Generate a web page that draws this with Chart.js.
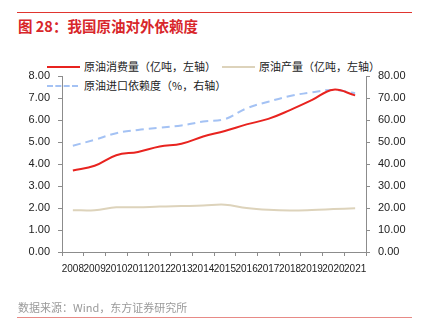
<!DOCTYPE html>
<html>
<head>
<meta charset="utf-8">
<script src="https://cdn.jsdelivr.net/npm/chart.js@4/dist/chart.umd.min.js"></script>
<style>
  html, body { margin: 0; padding: 0; background: #fff; }
  body { width: 421px; height: 323px; position: relative; overflow: hidden;
         font-family: "Liberation Sans", "Noto Sans CJK SC", sans-serif; }
  .rule { position: absolute; left: 17px; width: 395px; height: 1px; }
  .title { position: absolute; left: 18px; top: 15px; font-size: 14.5px; font-weight: bold;
           color: #d8262a; font-family: "Noto Sans CJK SC", sans-serif; white-space: nowrap; }
  .source { position: absolute; left: 18px; top: 299px; font-size: 11px; color: #9a9a9a;
            font-family: "Noto Sans CJK SC", sans-serif; white-space: nowrap; }
  .leg { position: absolute; font-size: 11px; color: #222; white-space: nowrap;
         font-family: "Noto Sans CJK SC", sans-serif; line-height: 14px; }
  .swatch { position: absolute; height: 0; }
  canvas { position: absolute; left: 0; top: 0; }
</style>
</head>
<body>
<div class="rule" style="top:12px;background:#e0352f;"></div>
<div class="title">图 28：我国原油对外依赖度</div>

<div class="swatch" style="left:47px;top:66px;width:33px;border-top:2px solid #e8231f;"></div>
<div class="leg" style="left:84px;top:59px;">原油消费量（亿吨，左轴）</div>
<div class="swatch" style="left:222px;top:66px;width:33px;border-top:2px solid #ddd3bb;"></div>
<div class="leg" style="left:259px;top:59px;">原油产量（亿吨，左轴）</div>
<div class="swatch" style="left:47px;top:85px;width:31px;border-top:2px dashed #a4c2f4;"></div>
<div class="leg" style="left:84px;top:78px;">原油进口依赖度（%，右轴）</div>

<canvas id="c" width="421" height="323"></canvas>

<div class="source">数据来源：Wind，东方证券研究所</div>
<div class="rule" style="top:317px;background:#e88a86;"></div>

<script>
// years on the x axis
var years = ['2008', '2009', '2010', '2011', '2012', '2013', '2014',
             '2015', '2016', '2017', '2018', '2019', '2020', '2021'];
// crude oil consumption, 100 million tonnes (left axis)
var consumption = [3.70, 3.92, 4.40, 4.55, 4.80, 4.92, 5.25, 5.50, 5.80, 6.05, 6.45, 6.90, 7.38, 7.12];
// crude oil output, 100 million tonnes (left axis)
var output = [1.90, 1.90, 2.03, 2.03, 2.07, 2.09, 2.11, 2.15, 2.00, 1.92, 1.89, 1.91, 1.95, 1.99];
// import dependency, % (right axis)
var dependency = [48.3, 51.0, 54.0, 55.5, 56.5, 57.5, 59.3, 60.4, 65.3, 68.3, 70.9, 72.6, 73.6, 72.2];

var axisColor = '#8c8c8c';
var tickFont = { family: '"Liberation Sans", Arial, sans-serif', size: 11 };

function fixWidth(w) {
  return function (scale) { scale.width = w; };
}

new Chart(document.getElementById('c'), {
  type: 'line',
  data: {
    labels: years,
    datasets: [
      {
        label: '原油消费量（亿吨，左轴）',
        data: consumption,
        yAxisID: 'y',
        borderColor: '#e8231f',
        borderWidth: 2,
        tension: 0.4,
        pointRadius: 0,
      },
      {
        label: '原油产量（亿吨，左轴）',
        data: output,
        yAxisID: 'y',
        borderColor: '#ddd3bb',
        borderWidth: 2,
        tension: 0.4,
        pointRadius: 0,
      },
      {
        label: '原油进口依赖度（%，右轴）',
        data: dependency,
        yAxisID: 'y1',
        borderColor: '#a4c2f4',
        borderWidth: 2,
        borderDash: [8, 5],
        tension: 0.4,
        pointRadius: 0,
      },
    ],
  },
  options: {
    responsive: false,
    animation: false,
    layout: { padding: { top: 76, left: 0, right: 0, bottom: 0 } },
    plugins: { legend: { display: false }, tooltip: { enabled: false } },
    scales: {
      x: {
        offset: true,
        grid: { offset: true, drawOnChartArea: false, color: axisColor, tickLength: 4 },
        border: { color: axisColor },
        ticks: { color: '#222', font: { family: tickFont.family, size: 10 }, maxRotation: 0,
                 autoSkip: false, padding: 7 },
        afterFit: function (scale) { scale.height = 71; },
      },
      y: {
        position: 'left',
        min: 0,
        max: 8,
        grid: { drawOnChartArea: false, color: axisColor, tickLength: 4 },
        border: { color: axisColor },
        ticks: { stepSize: 1, color: '#222', font: tickFont, padding: 8,
                 callback: function (v) { return v.toFixed(2); } },
        afterFit: fixWidth(62),
      },
      y1: {
        position: 'right',
        min: 0,
        max: 80,
        grid: { drawOnChartArea: false, color: axisColor, tickLength: 4 },
        border: { color: axisColor },
        ticks: { stepSize: 10, color: '#222', font: tickFont, padding: 8,
                 callback: function (v) { return v.toFixed(2); } },
        afterFit: fixWidth(55),
      },
    },
  },
});
</script>
</body>
</html>
